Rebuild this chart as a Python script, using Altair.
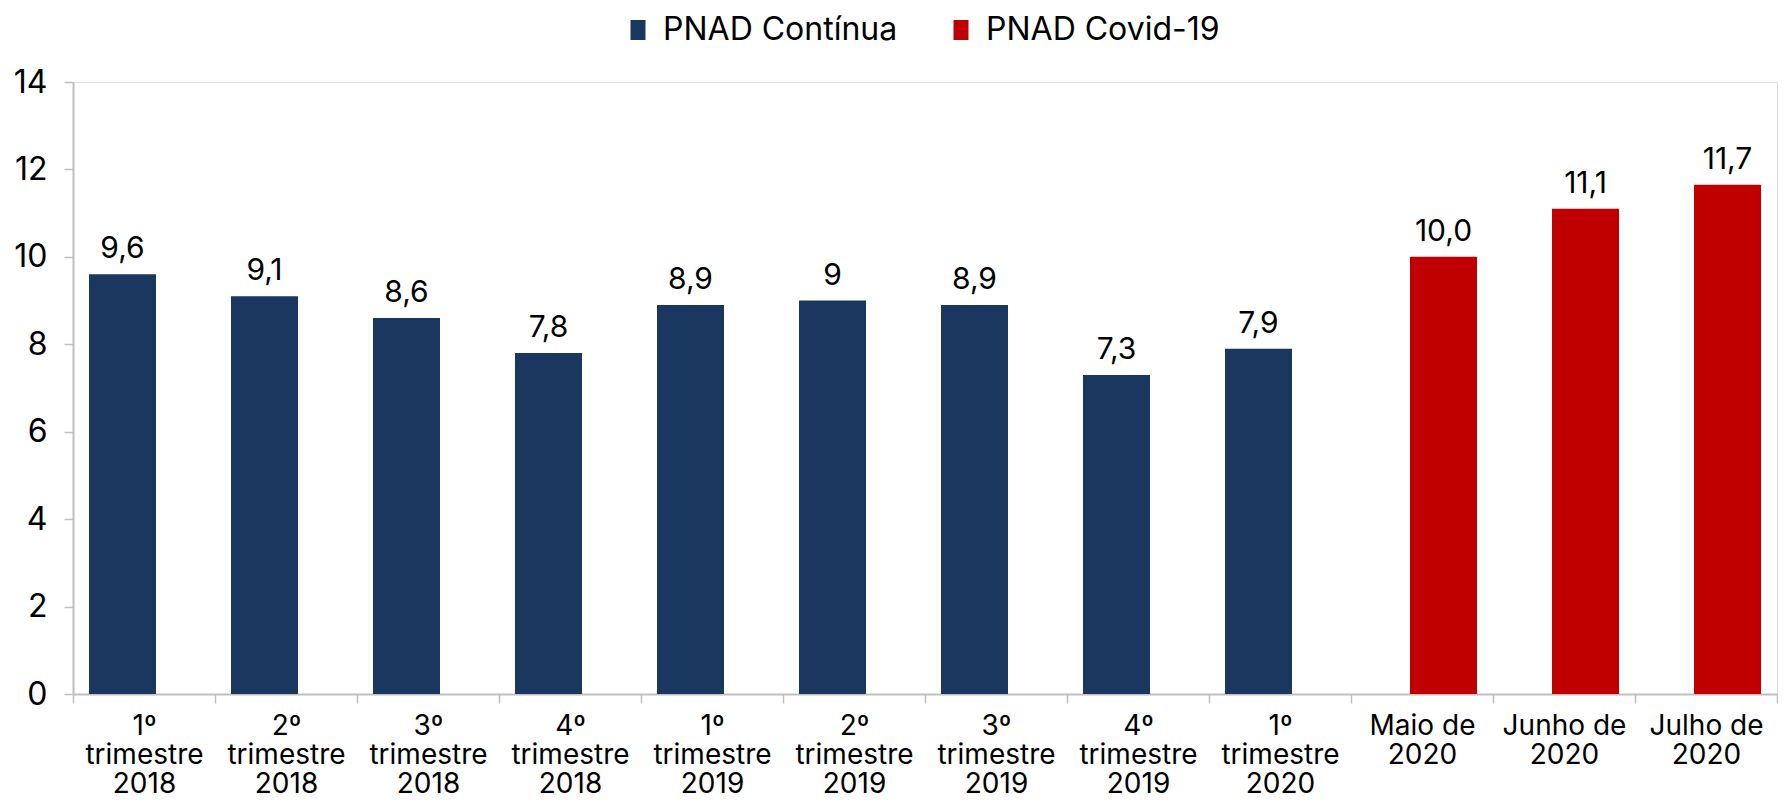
import altair as alt
import pandas as pd

categories = ["1º|trimestre|2018", "2º|trimestre|2018", "3º|trimestre|2018", "4º|trimestre|2018",
              "1º|trimestre|2019", "2º|trimestre|2019", "3º|trimestre|2019", "4º|trimestre|2019",
              "1º|trimestre|2020", "Maio de|2020", "Junho de|2020", "Julho de|2020"]
values = [9.6, 9.1, 8.6, 7.8, 8.9, 9.0, 8.9, 7.3, 7.9, 10.0, 11.1, 11.65]
labels = ["9,6", "9,1", "8,6", "7,8", "8,9", "9", "8,9", "7,3", "7,9", "10,0", "11,1", "11,7"]
series = ["PNAD Contínua"] * 9 + ["PNAD Covid-19"] * 3
series_names = ["PNAD Contínua", "PNAD Covid-19"]
colors = ["#1a375f", "#c00000"]
y_ticks = [0, 2, 4, 6, 8, 10, 12, 14]

df = pd.DataFrame({"cat": categories, "value": values, "label": labels, "series": series})

FONT = "Inter"
AXIS_GRAY = "#bfbfbf"

x_enc = alt.X(
    "cat:N", sort=categories,
    scale=alt.Scale(paddingInner=0, paddingOuter=0),
    axis=alt.Axis(title=None, labelAngle=0, labelExpr="split(datum.label, '|')",
                  tickBand="extent", tickSize=9, tickColor=AXIS_GRAY, tickWidth=1.5,
                  domainColor=AXIS_GRAY, domainWidth=2, labelFontSize=28,
                  labelLineHeight=29, labelPadding=9, labelColor="#000000",
                  labelFont=FONT),
)
y_enc = alt.Y(
    "value:Q", scale=alt.Scale(domain=[0, 14], nice=False),
    axis=alt.Axis(title=None, values=y_ticks, grid=False, tickSize=9, tickColor=AXIS_GRAY,
                  tickWidth=1.5, domainColor=AXIS_GRAY, domainWidth=2, labelFontSize=32,
                  labelPadding=17, labelColor="#000000", labelFont=FONT),
)
color_enc = alt.Color(
    "series:N", scale=alt.Scale(domain=series_names, range=colors),
    legend=alt.Legend(title=None, orient="none", legendX=549, legendY=-68,
                      direction="horizontal", labelFontSize=32, labelFont=FONT,
                      labelColor="#000000", labelLimit=600,
                      symbolType="M-0.75,-1H0.75V1H-0.75Z",
                      symbolSize=400, symbolStrokeWidth=0, labelOffset=9,
                      columnPadding=47, padding=0),
)

base = alt.Chart(df)
layers = []
for name, off in zip(series_names, [-21.5, 21.5]):
    sub = base.transform_filter(alt.datum.series == name)
    layers.append(sub.mark_bar(width=67, xOffset=off).encode(x=x_enc, y=y_enc, color=color_enc))
    layers.append(sub.mark_text(xOffset=off, dy=-16, baseline="alphabetic", fontSize=30,
                                font=FONT, color="#000000").encode(x=x_enc, y=y_enc, text="label:N"))

chart = alt.layer(*layers).properties(
    width=1704, height=612,
    padding={"left": 5, "top": 6, "right": 0, "bottom": 0},
).configure_view(stroke=None).configure(font=FONT)

chart.save("out.html", embed_options={"renderer": "svg", "actions": False})
